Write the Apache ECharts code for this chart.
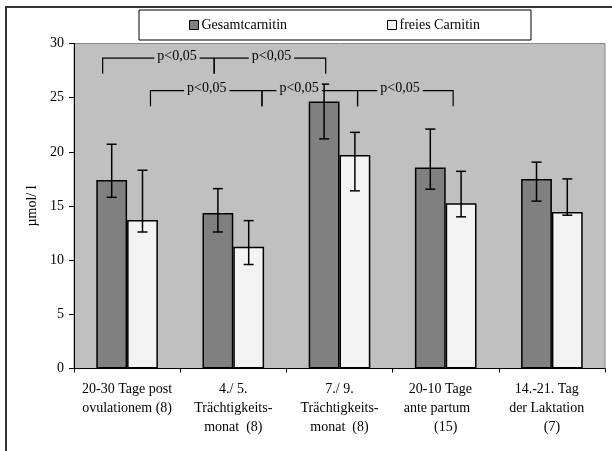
<!DOCTYPE html>
<html>
<head>
<meta charset="utf-8">
<script src="https://cdn.jsdelivr.net/npm/echarts@6/dist/echarts.min.js"></script>
<style>
  html, body { margin: 0; padding: 0; background: #fff; }
  #chart { width: 612px; height: 451px; }
</style>
</head>
<body>
<div id="chart"></div>
<script>
// Kategorien (x-Achse)
var categories = [
  "20-30 Tage post\novulationem (8)",
  "4./ 5.\nTrächtigkeits-\nmonat  (8)",
  "7./ 9.\nTrächtigkeits-\nmonat  (8)",
  "20-10 Tage   \nante partum     \n(15)",
  "14.-21. Tag   \nder Laktation   \n(7)"
];
// Mittelwerte
var gesamtcarnitin = [17.4, 14.35, 24.65, 18.55, 17.5];
var freiesCarnitin = [13.7, 11.25, 19.7, 15.25, 14.45];
// Fehlerbalken (untere / obere Grenze)
var gesamtLow = [15.8, 12.6, 21.2, 16.55, 15.45];
var gesamtHigh = [20.7, 16.6, 26.25, 22.1, 19.05];
var freiesLow = [12.6, 9.6, 16.4, 14.0, 14.15];
var freiesHigh = [18.3, 13.65, 21.8, 18.2, 17.5];
// Signifikanz-Klammern (x in Kategorie-Einheiten, y in µmol/l)
var sigFrom = [-0.23, 0.82, 0.22, 1.27, 2.17];
var sigTo = [0.82, 1.87, 1.27, 2.17, 3.07];
var sigLevel = [28.65, 28.65, 25.65, 25.65, 25.65];
var sigLabelX = [0.47, 1.36, 0.75, 1.62, 2.57];
var sigLabel = ["p<0,05", "p<0,05", "p<0,05", "p<0,05", "p<0,05"];
// y-Achse
var yTicks = [0, 5, 10, 15, 20, 25, 30];

var font = "'Liberation Serif', 'Times New Roman', serif";
var plotBg = "#c0c0c0";
var barGapRatio = 0.42;

var myChart = echarts.init(document.getElementById("chart"));

function errorData(low, high) {
  var out = [];
  for (var i = 0; i < low.length; i++) {
    out.push([i, low[i], high[i]]);
  }
  return out;
}

// Fehlerbalken, side = -1 links (Gesamt), +1 rechts (frei)
function errorRender(side) {
  return function (params, api) {
    var band = api.size([1, 0])[0];
    var barW = band * (1 - barGapRatio) / 2;
    var lo = api.coord([api.value(0), api.value(1)]);
    var hi = api.coord([api.value(0), api.value(2)]);
    var x = lo[0] + side * barW / 2;
    var cap = 5;
    var st = { stroke: "#000", lineWidth: 1.5 };
    return {
      type: "group",
      children: [
        { type: "line", shape: { x1: x, y1: lo[1], x2: x, y2: hi[1] }, style: st },
        { type: "line", shape: { x1: x - cap, y1: hi[1], x2: x + cap, y2: hi[1] }, style: st },
        { type: "line", shape: { x1: x - cap, y1: lo[1], x2: x + cap, y2: lo[1] }, style: st }
      ]
    };
  };
}

var sigData = [];
for (var i = 0; i < sigFrom.length; i++) {
  sigData.push([sigFrom[i], sigTo[i], sigLevel[i], sigLabelX[i]]);
}

var option = {
  animation: false,
  graphic: [
    {
      // äußerer Rahmen
      type: "rect",
      shape: { x: 6, y: 7, width: 640, height: 480 },
      style: { fill: "none", stroke: "#333", lineWidth: 2 },
      z: 0
    }
  ],
  legend: {
    left: 139,
    top: 10,
    padding: [8, 51, 8, 50],
    itemGap: 100,
    itemWidth: 9,
    itemHeight: 9,
    backgroundColor: "#fff",
    borderColor: "#000",
    borderWidth: 1,
    icon: "rect",
    itemStyle: { borderColor: "#000", borderWidth: 1 },
    textStyle: { fontFamily: font, fontSize: 14, color: "#000", padding: [0, 0, 0, -2] },
    data: ["Gesamtcarnitin", "freies Carnitin"]
  },
  grid: {
    left: 74,
    right: 7,
    top: 43.5,
    bottom: 82.5,
    show: true,
    backgroundColor: plotBg,
    borderColor: "#8a8a8a",
    borderWidth: 1
  },
  xAxis: [
    {
      type: "category",
      data: categories,
      axisLine: { show: true, lineStyle: { color: "#000", width: 1 } },
      axisTick: { show: true, length: 4, lineStyle: { color: "#000" } },
      axisLabel: {
        interval: 0,
        margin: 11,
        fontFamily: font,
        fontSize: 14,
        lineHeight: 19,
        color: "#000"
      },
      splitLine: { show: false }
    },
    {
      // Hilfsachse für die Klammern
      type: "value",
      min: -0.5,
      max: 4.5,
      show: false
    }
  ],
  yAxis: {
    type: "value",
    min: yTicks[0],
    max: yTicks[yTicks.length - 1],
    interval: 5,
    name: "µmol/ l",
    nameLocation: "middle",
    nameRotate: 90,
    nameGap: 31,
    nameTextStyle: { fontFamily: font, fontSize: 14, color: "#000" },
    axisLine: { show: true, onZero: false, lineStyle: { color: "#000", width: 1 } },
    axisTick: { show: true, length: 5, lineStyle: { color: "#000" } },
    axisLabel: { margin: 10, fontFamily: font, fontSize: 14, color: "#000" },
    splitLine: { show: false }
  },
  series: [
    {
      name: "Gesamtcarnitin",
      type: "bar",
      data: gesamtcarnitin,
      barGap: "0%",
      barCategoryGap: barGapRatio * 100 + "%",
      itemStyle: { color: "#808080", borderColor: "#000", borderWidth: 1.5 },
      z: 2
    },
    {
      name: "freies Carnitin",
      type: "bar",
      data: freiesCarnitin,
      barGap: "0%",
      barCategoryGap: barGapRatio * 100 + "%",
      itemStyle: { color: "#f3f3f3", borderColor: "#000", borderWidth: 1.5 },
      z: 2
    },
    {
      type: "custom",
      data: errorData(gesamtLow, gesamtHigh),
      renderItem: errorRender(-1),
      encode: { x: 0, y: [1, 2] },
      z: 5,
      silent: true
    },
    {
      type: "custom",
      data: errorData(freiesLow, freiesHigh),
      renderItem: errorRender(1),
      encode: { x: 0, y: [1, 2] },
      z: 5,
      silent: true
    },
    {
      type: "custom",
      xAxisIndex: 1,
      data: sigData,
      encode: { x: [0, 1, 3], y: 2 },
      z: 6,
      silent: true,
      renderItem: function (params, api) {
        var a = api.coord([api.value(0), api.value(2)]);
        var b = api.coord([api.value(1), api.value(2)]);
        var t = api.coord([api.value(3), api.value(2)]);
        var leg = 15.5;
        return {
          type: "group",
          children: [
            {
              type: "polyline",
              shape: { points: [[a[0], a[1] + leg], [a[0], a[1]], [b[0], b[1]], [b[0], b[1] + leg]] },
              style: { stroke: "#000", lineWidth: 1.2, fill: "none" }
            },
            {
              type: "text",
              x: t[0],
              y: t[1] - 2,
              style: {
                text: sigLabel[params.dataIndex],
                font: "14px " + font,
                fill: "#000",
                align: "center",
                verticalAlign: "middle",
                backgroundColor: plotBg,
                padding: [0, 3]
              }
            }
          ]
        };
      }
    }
  ]
};

option && myChart.setOption(option);
</script>
</body>
</html>
